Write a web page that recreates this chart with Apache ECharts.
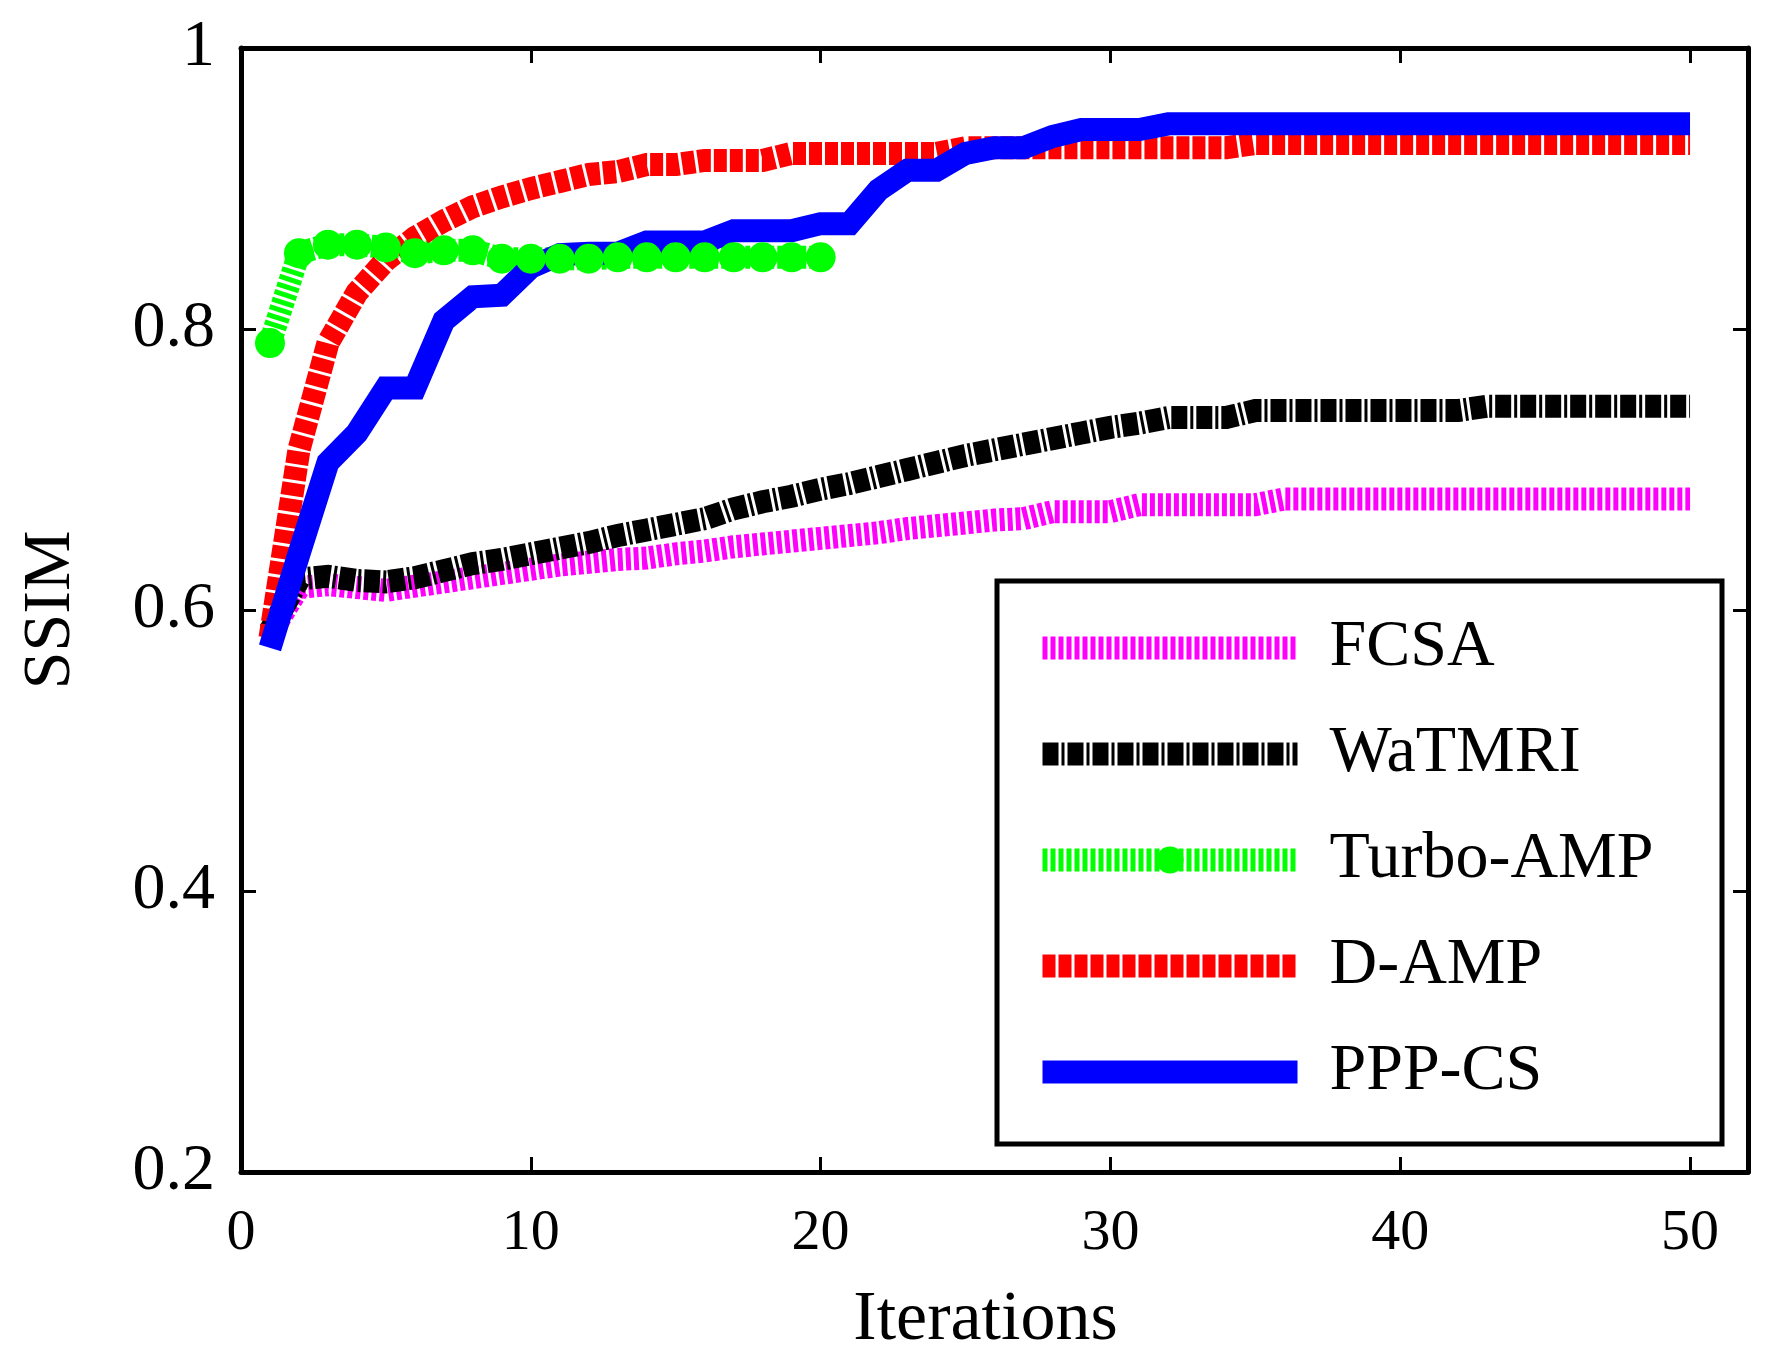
<!DOCTYPE html>
<html>
<head>
<meta charset="utf-8">
<title>SSIM vs Iterations</title>
<script src="https://cdn.jsdelivr.net/npm/echarts@6/dist/echarts.min.js"></script>
<style>
  html, body { margin: 0; padding: 0; background: #fff; }
  #chart { width: 1776px; height: 1366px; }
</style>
</head>
<body>
<div id="chart"></div>
<script>
// iteration numbers (x) and tick labels
const iterations = [1, 2, 3, 4, 5, 6, 7, 8, 9, 10, 11, 12, 13, 14, 15, 16, 17, 18, 19, 20,
  21, 22, 23, 24, 25, 26, 27, 28, 29, 30, 31, 32, 33, 34, 35, 36, 37, 38, 39, 40,
  41, 42, 43, 44, 45, 46, 47, 48, 49, 50]
const xTicks = [0, 10, 20, 30, 40, 50]
const yTicks = [0.2, 0.4, 0.6, 0.8, 1]

// SSIM per iteration
const fcsa = [0.583, 0.616, 0.618, 0.616, 0.614, 0.617, 0.620, 0.623, 0.626, 0.629,
  0.632, 0.634, 0.636, 0.637, 0.640, 0.642, 0.645, 0.647, 0.649, 0.651,
  0.653, 0.655, 0.658, 0.660, 0.662, 0.664, 0.665, 0.670, 0.670, 0.670,
  0.675, 0.675, 0.675, 0.675, 0.675, 0.679, 0.679, 0.679, 0.679, 0.679,
  0.679, 0.679, 0.679, 0.679, 0.679, 0.679, 0.679, 0.679, 0.679, 0.679]
const watmri = [0.585, 0.622, 0.624, 0.621, 0.620, 0.623, 0.628, 0.633, 0.636, 0.640,
  0.644, 0.648, 0.653, 0.657, 0.661, 0.665, 0.672, 0.677, 0.681, 0.686,
  0.690, 0.695, 0.700, 0.705, 0.710, 0.714, 0.718, 0.722, 0.726, 0.730,
  0.733, 0.737, 0.737, 0.737, 0.742, 0.742, 0.742, 0.742, 0.742, 0.742,
  0.742, 0.742, 0.745, 0.745, 0.745, 0.745, 0.745, 0.745, 0.745, 0.745]
const turboAmp = [0.790, 0.854, 0.860, 0.860, 0.858, 0.854, 0.856, 0.856, 0.850, 0.850,
  0.850, 0.850, 0.851, 0.851, 0.851, 0.851, 0.851, 0.851, 0.851, 0.851]
const dAmp = [0.580, 0.714, 0.790, 0.826, 0.849, 0.865, 0.877, 0.887, 0.894, 0.900,
  0.905, 0.910, 0.912, 0.917, 0.917, 0.920, 0.920, 0.920, 0.925, 0.925,
  0.925, 0.925, 0.925, 0.925, 0.929, 0.929, 0.929, 0.929, 0.929, 0.929,
  0.929, 0.929, 0.929, 0.929, 0.932, 0.932, 0.932, 0.932, 0.932, 0.932,
  0.932, 0.932, 0.932, 0.932, 0.932, 0.932, 0.932, 0.932, 0.932, 0.932]
const pppCs = [0.573, 0.640, 0.705, 0.726, 0.758, 0.758, 0.806, 0.823, 0.824, 0.844,
  0.853, 0.854, 0.854, 0.862, 0.862, 0.862, 0.870, 0.870, 0.870, 0.875,
  0.875, 0.899, 0.913, 0.913, 0.925, 0.929, 0.929, 0.937, 0.942, 0.942,
  0.942, 0.946, 0.946, 0.946, 0.946, 0.946, 0.946, 0.946, 0.946, 0.946,
  0.946, 0.946, 0.946, 0.946, 0.946, 0.946, 0.946, 0.946, 0.946, 0.946]

const FONT = '"Liberation Serif", "Times New Roman", serif'

function pts(vals) {
  return vals.map((v, i) => [iterations[i], v])
}

function lineSeries(name, vals, color, dash, extra) {
  return Object.assign({
    name: name,
    type: 'line',
    data: pts(vals),
    symbol: 'none',
    lineStyle: { color: color, width: 23, type: dash, cap: 'butt', join: 'miter' },
    itemStyle: { color: color },
    emphasis: { disabled: true },
    animation: false
  }, extra || {})
}

const tickStyle = { show: true, inside: true, length: 15, lineStyle: { color: '#000', width: 3 } }
const axisLine = { show: true, onZero: false, lineStyle: { color: '#000', width: 5 } }

// legend entries without a marker get a transparent symbol
const noMark = { color: 'rgba(0,0,0,0)', borderWidth: 0, opacity: 0 }

const option = {
  backgroundColor: '#fff',
  animation: false,
  grid: { left: 241, right: 28, top: 48, bottom: 194, containLabel: false },
  xAxis: [
    {
      type: 'value', min: 0, max: 52, position: 'bottom',
      name: 'Iterations', nameLocation: 'middle', nameGap: 114,
      nameTextStyle: { fontFamily: FONT, fontSize: 70, color: '#000', padding: [0, 18, 0, 0] },
      axisLine: axisLine,
      axisTick: Object.assign({ customValues: xTicks }, tickStyle),
      axisLabel: { customValues: xTicks, margin: 33, fontFamily: FONT, fontSize: 58, color: '#000' },
      splitLine: { show: false }
    },
    {
      type: 'value', min: 0, max: 52, position: 'top',
      axisLine: axisLine,
      axisTick: Object.assign({ customValues: xTicks }, tickStyle),
      axisLabel: { show: false },
      splitLine: { show: false }
    }
  ],
  yAxis: [
    {
      type: 'value', min: 0.2, max: 1, position: 'left',
      name: 'SSIM', nameLocation: 'middle', nameGap: 156, nameRotate: 90,
      nameTextStyle: { fontFamily: FONT, fontSize: 68, color: '#000' },
      axisLine: axisLine,
      axisTick: Object.assign({ customValues: yTicks }, tickStyle),
      axisLabel: {
        customValues: yTicks, margin: 26, fontFamily: FONT, fontSize: 66, color: '#000',
        formatter: v => (v === 1 ? '1' : v.toFixed(1))
      },
      splitLine: { show: false }
    },
    {
      type: 'value', min: 0.2, max: 1, position: 'right',
      axisLine: axisLine,
      axisTick: Object.assign({ customValues: yTicks }, tickStyle),
      axisLabel: { show: false },
      splitLine: { show: false }
    }
  ],
  // legend frame
  graphic: [{
    type: 'rect', z: 10,
    shape: { x: 997, y: 581, width: 725, height: 563 },
    style: { fill: '#fff', stroke: '#000', lineWidth: 5 }
  }],
  legend: {
    orient: 'vertical', left: 1031, top: 615, z: 20,
    itemWidth: 255, itemHeight: 34, itemGap: 40, padding: 0,
    selectedMode: false,
    textStyle: { fontFamily: FONT, fontSize: 66, color: '#000', padding: [0, 0, 0, 27] },
    lineStyle: { width: 23 },
    data: [
      { name: 'FCSA', itemStyle: noMark },
      { name: 'WaTMRI', itemStyle: noMark },
      { name: 'Turbo-AMP' },
      { name: 'D-AMP', itemStyle: noMark },
      { name: 'PPP-CS', itemStyle: noMark }
    ]
  },
  series: [
    lineSeries('FCSA', fcsa, '#ff00ff', [5, 3]),
    lineSeries('WaTMRI', watmri, '#000000', [16, 3, 3, 3]),
    lineSeries('Turbo-AMP', turboAmp, '#00ff00', [5, 3], {
      symbol: 'circle', symbolSize: 30, showSymbol: true, showAllSymbol: true
    }),
    lineSeries('D-AMP', dAmp, '#ff0000', [13, 3]),
    lineSeries('PPP-CS', pppCs, '#0000ff', 'solid')
  ]
}

const chart = echarts.init(document.getElementById('chart'))
chart.setOption(option)
</script>
</body>
</html>
